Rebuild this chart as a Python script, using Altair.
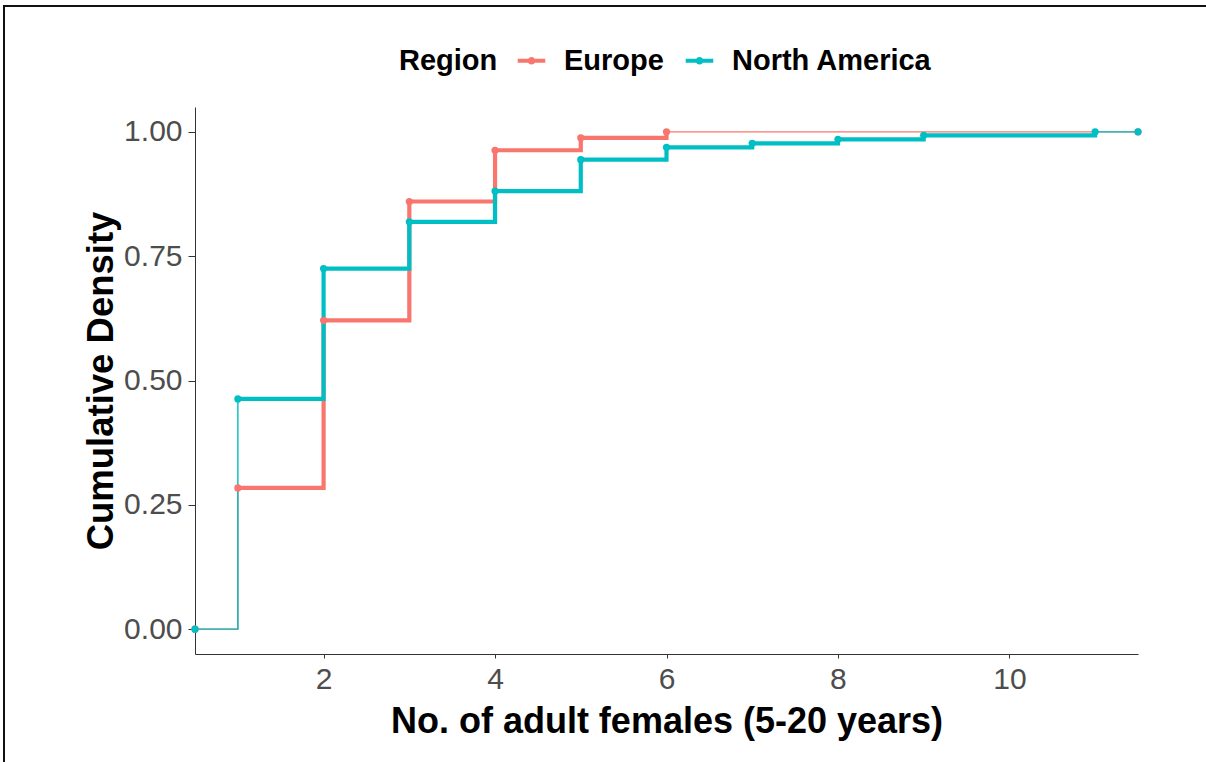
import altair as alt
import pandas as pd

# ---- data ----
regions = ["Europe", "North America"]
eu_x = [0.5, 1, 2, 3, 4, 5, 6, 11.5]
eu_y = [0.0, 0.284, 0.621, 0.860, 0.963, 0.988, 1.0, 1.0]
na_x = [0.5, 1, 2, 3, 4, 5, 6, 7, 8, 9, 11, 11.5]
na_y = [0.0, 0.463, 0.725, 0.819, 0.881, 0.944, 0.969, 0.977, 0.985, 0.993, 1.0, 1.0]
x_ticks = [2, 4, 6, 8, 10]
y_ticks = [0.0, 0.25, 0.5, 0.75, 1.0]

colors = ["#F8766D", "#00BFC4"]
FONT = "Liberation Sans"

# points table
pts = pd.DataFrame(
    [{"Region": regions[0], "x": a, "y": b} for a, b in zip(eu_x, eu_y)]
    + [{"Region": regions[1], "x": a, "y": b} for a, b in zip(na_x, na_y)]
)

# step segments: segments starting at 0 (padding) or at 1 are drawn thin
seg_rows = []
for reg, xs, ys in [(regions[0], eu_x, eu_y), (regions[1], na_x, na_y)]:
    runs = []
    for i in range(len(xs) - 1):
        cls = "thin" if ys[i] in (0.0, 1.0) else "thick"
        if runs and runs[-1][0] == cls:
            runs[-1][1].append(i + 1)
        else:
            runs.append([cls, [i, i + 1]])
    for k, (cls, idx) in enumerate(runs):
        for j in idx:
            seg_rows.append({"Region": reg, "grp": f"{reg}-{k}", "w": cls,
                             "x": xs[j], "y": ys[j], "o": j})
segs = pd.DataFrame(seg_rows)

xscale = alt.Scale(domain=[0.5, 11.5], nice=False, zero=False)
yscale = alt.Scale(domain=[-0.05, 1.05], nice=False, zero=False)
cscale = alt.Scale(domain=regions, range=colors)

xaxis = alt.Axis(values=x_ticks, format="d", title="No. of adult females (5-20 years)", grid=False,
                 tickSize=4, labelPadding=6, labelFontSize=30, labelColor="#4D4D4D",
                 titleFontSize=36, titleFontWeight="bold", titleColor="black",
                 titleBaseline="alphabetic", titleY=78, titleX=471.5,
                 domainColor="#333333", tickColor="#333333", labelFont=FONT, titleFont=FONT)
yaxis = alt.Axis(values=y_ticks, format=".2f", title="Cumulative Density", grid=False,
                 tickSize=7, labelPadding=6, labelFontSize=30, labelColor="#4D4D4D",
                 titleFontSize=36.5, titleFontWeight="bold", titleColor="black",
                 titleBaseline="alphabetic", titleX=-83, titleY=273.5, titleAngle=-90,
                 domainColor="#333333", tickColor="#333333", labelFont=FONT, titleFont=FONT)

legend_symbol = ("M-1,-0.14H1V0.14H-1Z "
                 "M0.28,0A0.28,0.28 0 1,1 -0.28,0A0.28,0.28 0 1,1 0.28,0Z")
legend = alt.Legend(title="Region", orient="none", direction="horizontal",
                    legendX=204, legendY=-61, titleOrient="left",
                    titleFontSize=29, titleFontWeight="bold", titleColor="black",
                    labelFontSize=29, labelFontWeight="bold", labelColor="black",
                    titleFont=FONT, labelFont=FONT, labelLimit=0, titleLimit=0,
                    symbolType=legend_symbol, symbolSize=760,
                    symbolStrokeWidth=0, symbolOpacity=1,
                    titlePadding=19, labelOffset=18, columnPadding=21)

lines = alt.Chart(segs).mark_line(interpolate="step-after", strokeCap="square",
                                  strokeJoin="miter").encode(
    x=alt.X("x:Q", scale=xscale, axis=xaxis),
    y=alt.Y("y:Q", scale=yscale, axis=yaxis),
    color=alt.Color("Region:N", scale=cscale, legend=legend),
    detail="grp:N",
    order="o:Q",
    strokeWidth=alt.StrokeWidth("w:N", scale=alt.Scale(domain=["thick", "thin"], range=[4.2, 1.4]),
                                legend=None),
)

points = alt.Chart(pts).mark_circle(size=52, opacity=1).encode(
    x=alt.X("x:Q", scale=xscale),
    y=alt.Y("y:Q", scale=yscale),
    color=alt.Color("Region:N", scale=cscale, legend=legend),
)

frame_df = pd.DataFrame({"k": [0]})
frame_left = alt.Chart(frame_df).mark_rule(color="#111111", strokeWidth=2).encode(
    x=alt.value(-191), x2=alt.value(-191), y=alt.value(-101), y2=alt.value(660))
frame_top = alt.Chart(frame_df).mark_rule(color="#111111", strokeWidth=2).encode(
    x=alt.value(-192), x2=alt.value(1015), y=alt.value(-101), y2=alt.value(-101))

chart = alt.layer(lines, points, frame_left, frame_top).properties(
    width=943, height=547,
    background="white",
    autosize=alt.AutoSizeParams(type="none"),
    padding={"left": 195, "top": 107, "right": 68, "bottom": 108},
).configure_view(strokeWidth=0, stroke="transparent")

chart.save("out.html", embed_options={"renderer": "svg", "actions": False})
